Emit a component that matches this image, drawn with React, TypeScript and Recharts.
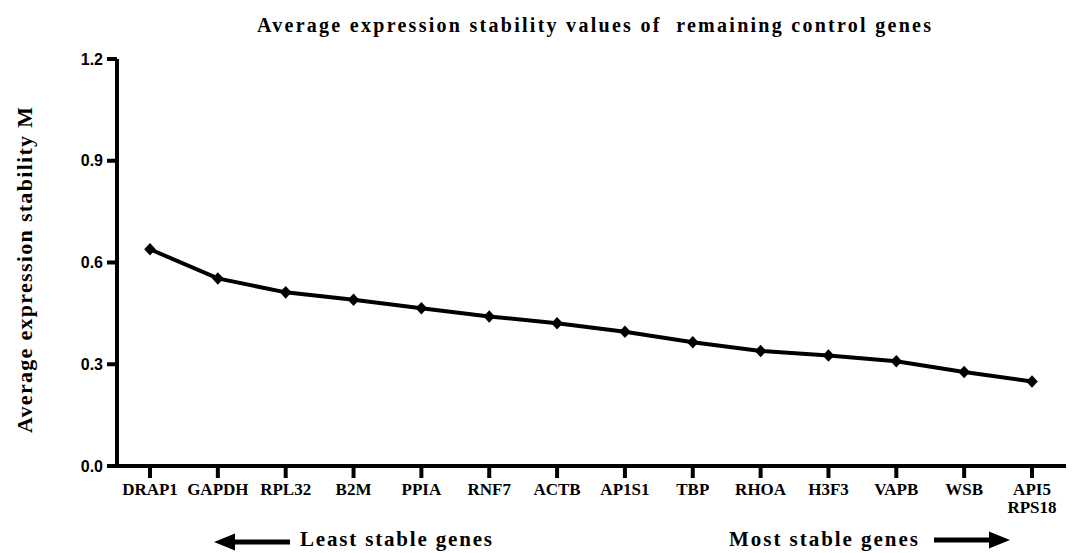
import React from 'react';
import { LineChart, Line, XAxis, YAxis } from 'recharts';

const genes = ['DRAP1', 'GAPDH', 'RPL32', 'B2M', 'PPIA', 'RNF7', 'ACTB', 'AP1S1', 'TBP', 'RHOA', 'H3F3', 'VAPB', 'WSB', 'API5\nRPS18'];
const mValues = [0.639, 0.553, 0.512, 0.49, 0.465, 0.441, 0.421, 0.396, 0.365, 0.339, 0.326, 0.309, 0.277, 0.249];
const yTicks = [0, 0.3, 0.6, 0.9, 1.2];

const data = genes.map((g, i) => ({ gene: g, m: mValues[i] }));

const SERIF = '"Liberation Serif", "Times New Roman", serif';
const SANS = '"Liberation Sans", Arial, sans-serif';

const XTick = (props: any) => {
  const { x, y, payload } = props;
  const lines = String(payload.value).split('\n');
  return (
    <text x={x} y={y} textAnchor="middle" fontFamily={SERIF} fontWeight="bold" fontSize={17} fill="#000">
      {lines.map((l, i) => (
        <tspan key={i} x={x} dy={i === 0 ? '0.68em' : '1.1em'}>{l}</tspan>
      ))}
    </text>
  );
};

const Diamond = (props: any) => {
  const { cx, cy } = props;
  if (cx == null || cy == null) return null;
  const rx = 5.8;
  const ry = 6.3;
  return <path d={`M${cx},${cy - ry}L${cx + rx},${cy}L${cx},${cy + ry}L${cx - rx},${cy}Z`} fill="#000" stroke="none" />;
};

export default function App() {
  return (
    <div style={{ position: 'absolute', left: 0, top: 0, width: 1078, height: 553, background: '#fff' }}>
      <LineChart width={1078} height={553} data={data} margin={{ top: 59, right: 12, bottom: 47, left: 0 }}>
        <XAxis
          dataKey="gene"
          interval={0}
          padding={{ left: 33, right: 34 }}
          axisLine={{ stroke: '#000', strokeWidth: 4 }}
          tickLine={{ stroke: '#000', strokeWidth: 4 }}
          tickSize={12}
          tickMargin={5}
          height={40}
          tick={<XTick />}
        />
        <YAxis
          domain={[0, 1.2]}
          ticks={yTicks}
          width={117}
          axisLine={{ stroke: '#000', strokeWidth: 4 }}
          tickLine={{ stroke: '#000', strokeWidth: 4 }}
          tickSize={10}
          tickMargin={4}
          tickFormatter={(v: number) => v.toFixed(1)}
          tick={{ fill: '#000', fontFamily: SANS, fontWeight: 'bold', fontSize: 16 }}
        />
        <Line
          type="linear"
          dataKey="m"
          stroke="#000"
          strokeWidth={4}
          dot={<Diamond />}
          activeDot={false}
          isAnimationActive={false}
        />
      </LineChart>
      <svg width={1078} height={553} style={{ position: 'absolute', left: 0, top: 0, pointerEvents: 'none' }}>
        <text x={257} y={32} textLength={674} lengthAdjust="spacing" fontFamily={SERIF} fontWeight="bold" fontSize={20} fill="#000" style={{ whiteSpace: 'pre' }}>
          {'Average expression stability values of  remaining control genes'}
        </text>
        <text
          transform="translate(32,270) rotate(-90)"
          textAnchor="middle"
          textLength={326}
          lengthAdjust="spacing"
          fontFamily={SERIF}
          fontWeight="bold"
          fontSize={22}
          fill="#000"
        >
          Average expression stability M
        </text>
        <text x={300} y={546} textLength={192} lengthAdjust="spacing" fontFamily={SERIF} fontWeight="bold" fontSize={21} fill="#000">
          Least stable genes
        </text>
        <text x={729} y={546} textLength={189} lengthAdjust="spacing" fontFamily={SERIF} fontWeight="bold" fontSize={21} fill="#000">
          Most stable genes
        </text>
        <line x1={232} y1={542} x2={290} y2={542} stroke="#000" strokeWidth={5} />
        <path d="M214,542 L235,533.5 L235,550.5 Z" fill="#000" />
        <line x1={934} y1={540} x2={992} y2={540} stroke="#000" strokeWidth={5} />
        <path d="M1010,540 L989,531.5 L989,548.5 Z" fill="#000" />
      </svg>
    </div>
  );
}
